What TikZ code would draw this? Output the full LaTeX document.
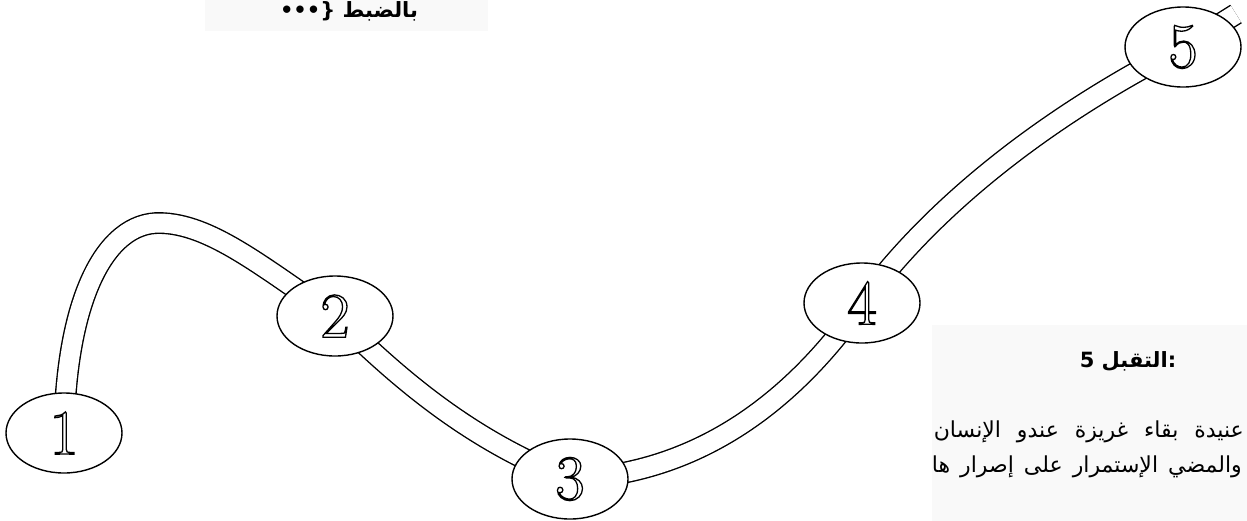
\documentclass[tikz,border=0pt]{standalone}
\usepackage{fontspec}
\usetikzlibrary{shapes.geometric}
\newfontfamily\arabicfont[Script=Arabic]{DejaVu Sans}
\newcommand\hollow[1]{{\color{white}\special{pdf:literal direct 2 Tr 1.3 w 0 G}#1%
  \special{pdf:literal direct 0 Tr}}}
\pgfdeclarelayer{background}
\pgfsetlayers{background,main}

\begin{document}
\begin{tikzpicture}[x=1pt,y=-1pt,
    road/.style={line width=1.4pt,double=white,double distance=19pt},
    stop/.style={ellipse,draw,line width=1.4pt,fill=white,inner sep=0pt,
      minimum width=116pt,minimum height=80pt,
      font=\fontsize{64}{64}\selectfont},
    ar/.style={font=\arabicfont\fontsize{22}{26}\selectfont,inner sep=0pt}]
  \useasboundingbox (0,0) rectangle (1247,520);
  \node[stop] (s1) at (64,433)   {\hollow{1}};
  \node[stop] (s2) at (335,316)  {\hollow{2}};
  \node[stop] (s3) at (570,479)  {\hollow{3}};
  \node[stop] (s4) at (862,303)  {\hollow{4}};
  \node[stop] (s5) at (1183,47)  {\hollow{5}};
  \coordinate (tip) at (1236,14);
  \node[ar,font=\arabicfont\bfseries\fontsize{21}{24}\selectfont,anchor=base] (hint) at (349,17)
    {\mbox{\{•••}\ \mbox{بالضبط}};
  \node[ar,font=\arabicfont\bfseries\fontsize{21}{26}\selectfont,anchor=base] (title) at (1128,367)
    {\mbox{5}\ \mbox{التقبل}\mbox{:}};
  \node[ar,anchor=base east] (l1) at (1244,437)
    {\hbox to 310pt{\mbox{الإنسان}\hfill\mbox{عندو}\hfill\mbox{غريزة}\hfill\mbox{بقاء}\hfill\mbox{عنيدة}}};
  \node[ar,anchor=base east] (l2) at (1242,472)
    {\hbox to 310pt{\mbox{ها}\hfill\mbox{إصرار}\hfill\mbox{على}\hfill\mbox{الإستمرار}\hfill\mbox{والمضي}}};
  \begin{pgfonlayer}{background}
    \fill[gray!5] (205,-5) rectangle (488,31);
    \fill[gray!5] (932,325) rectangle (1252,525);
    \draw[road] (s1.center) .. controls (66,300) and (105,222) .. (160,223)
      .. controls (210,224) and (260,265) .. (s2.center)
      .. controls (400,380) and (470,440) .. (s3.center)
      .. controls (680,475) and (780,420) .. (s4.center)
      .. controls (930,210) and (1040,120) .. (s5.center) -- (tip);
  \end{pgfonlayer}
\end{tikzpicture}
\end{document}
